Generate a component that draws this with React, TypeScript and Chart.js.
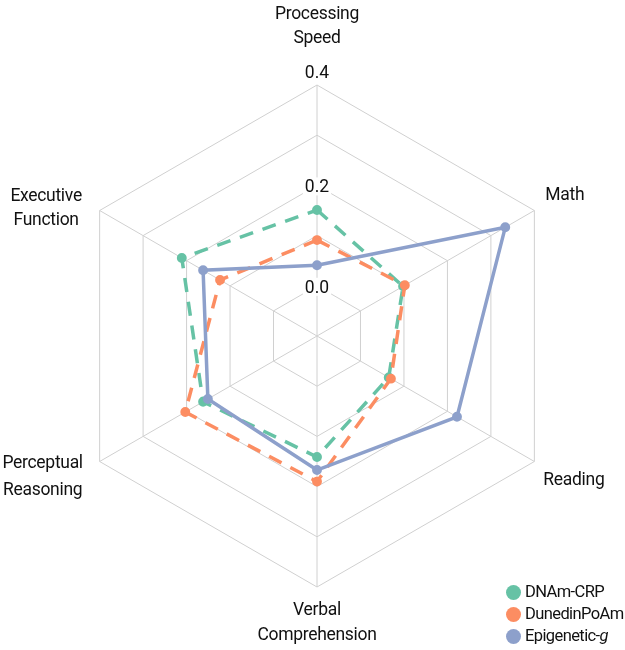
import React, { useEffect, useRef } from 'react';
import { Chart, registerables } from 'chart.js';

Chart.register(...registerables);

const categories: (string | string[])[] = [
  ['Processing', 'Speed'],
  'Math',
  'Reading',
  ['Verbal', 'Comprehension'],
  ['Perceptual', 'Reasoning'],
  ['Executive', 'Function'],
];

const dnamCrp = [0.151, 0.098, 0.065, 0.141, 0.162, 0.211];
const dunedinPoAm = [0.091, 0.102, 0.07, 0.19, 0.203, 0.123];
const epigeneticG = [0.041, 0.333, 0.222, 0.167, 0.151, 0.162];

const tickValues = [0.0, 0.2, 0.4];

const FONT = "Roboto, 'Liberation Sans', sans-serif";
const FONT_SIZE = 17.5;
const TEXT = '#111';
const GRID = '#d0d0d0';
const GREEN = '#66c2a5';
const ORANGE = '#fc8d62';
const BLUE = '#8da0cb';

// label placement relative to each outer vertex (styling, not data)
const labelLayout = [
  { dx: 0, align: 'center', base: [-66, -42] },
  { dx: 11, align: 'left', base: [-10.5] },
  { dx: 9, align: 'left', base: [23.5] },
  { dx: 0, align: 'center', base: [28, 53] },
  { dx: -57, align: 'center', base: [6.5, 33] },
  { dx: -53.5, align: 'center', base: [-9.5, 14.5] },
];

const tickLabelsPlugin = {
  id: 'tickLabelsPlugin',
  beforeDatasetsDraw(chart: any) {
    const scale = chart.scales.r;
    const ctx = chart.ctx as CanvasRenderingContext2D;
    ctx.save();
    ctx.font = `${FONT_SIZE}px ${FONT}`;
    ctx.textAlign = 'center';
    ctx.textBaseline = 'alphabetic';
    const top = scale.max;
    tickValues.forEach((v) => {
      const d = scale.getDistanceFromCenterForValue(v);
      const p = scale.getPointPosition(0, d);
      const text = v.toFixed(1);
      const w = ctx.measureText(text).width;
      if (v === top) {
        ctx.fillStyle = TEXT;
        ctx.fillText(text, p.x, p.y - 7);
      } else {
        ctx.fillStyle = '#fff';
        ctx.fillRect(p.x - w / 2 - 2, p.y - 8, w + 4, 18);
        ctx.fillStyle = TEXT;
        ctx.fillText(text, p.x, p.y + 7);
      }
    });
    ctx.restore();
  },
  afterDraw(chart: any) {
    const scale = chart.scales.r;
    const ctx = chart.ctx as CanvasRenderingContext2D;
    ctx.save();
    ctx.font = `${FONT_SIZE}px ${FONT}`;
    (ctx as any).letterSpacing = '-0.3px';
    ctx.fillStyle = TEXT;
    ctx.textBaseline = 'alphabetic';
    const labels = chart.data.labels as (string | string[])[];
    labels.forEach((lab, i) => {
      const lines = Array.isArray(lab) ? lab : [lab];
      const p = scale.getPointPosition(i, scale.drawingArea);
      const lay = labelLayout[i];
      ctx.textAlign = lay.align as CanvasTextAlign;
      lines.forEach((line, j) => {
        ctx.fillText(line, p.x + lay.dx, p.y + lay.base[j]);
      });
    });
    ctx.restore();
  },
};

export default function App() {
  const ref = useRef<HTMLCanvasElement | null>(null);

  useEffect(() => {
    if (!ref.current) return;
    const common = {
      borderWidth: 3.5,
      pointRadius: 3.2,
      pointHoverRadius: 3.2,
      fill: false,
    };
    const chart = new Chart(ref.current, {
      type: 'radar',
      data: {
        labels: categories,
        datasets: [
          {
            ...common,
            label: 'DNAm-CRP',
            data: dnamCrp,
            borderColor: GREEN,
            backgroundColor: GREEN,
            pointBackgroundColor: GREEN,
            pointBorderColor: GREEN,
            borderDash: [14, 10],
            order: 3,
          },
          {
            ...common,
            label: 'DunedinPoAm',
            data: dunedinPoAm,
            borderColor: ORANGE,
            backgroundColor: ORANGE,
            pointBackgroundColor: ORANGE,
            pointBorderColor: ORANGE,
            borderDash: [14, 10],
            order: 2,
          },
          {
            ...common,
            label: 'Epigenetic-g',
            data: epigeneticG,
            borderColor: BLUE,
            backgroundColor: BLUE,
            pointBackgroundColor: BLUE,
            pointBorderColor: BLUE,
            order: 1,
          },
        ],
      },
      options: {
        responsive: false,
        animation: false,
        layout: { padding: { top: 85, bottom: 63, left: 50, right: 41 } },
        plugins: {
          legend: { display: false },
          tooltip: { enabled: false },
        },
        scales: {
          r: {
            min: -0.1,
            max: 0.4,
            ticks: { stepSize: 0.1, display: false },
            grid: { color: GRID, lineWidth: 1 },
            angleLines: { color: GRID, lineWidth: 1 },
            pointLabels: { display: false },
          },
        },
      },
      plugins: [tickLabelsPlugin],
    });
    return () => chart.destroy();
  }, []);

  const legendItems = [
    { color: GREEN, text: <span>DNAm-CRP</span> },
    { color: ORANGE, text: <span>DunedinPoAm</span> },
    { color: BLUE, text: <span>Epigenetic-<i>g</i></span> },
  ];

  return (
    <div style={{ position: 'fixed', left: 0, top: 0, width: 625, height: 650, background: '#fff' }}>
      <canvas ref={ref} width={625} height={650} style={{ display: 'block' }} />
      <div
        style={{
          position: 'absolute',
          left: 505.5,
          top: 581,
          fontFamily: FONT,
          fontSize: 16.5,
          letterSpacing: '-0.6px',
          color: TEXT,
          lineHeight: '22px',
          whiteSpace: 'nowrap',
        }}
      >
        {legendItems.map((it, i) => (
          <div key={i} style={{ display: 'flex', alignItems: 'center', height: 22 }}>
            <span
              style={{
                display: 'inline-block',
                width: 15,
                height: 15,
                borderRadius: 8,
                background: it.color,
                marginRight: 4.5,
                flex: 'none',
              }}
            />
            {it.text}
          </div>
        ))}
      </div>
    </div>
  );
}
